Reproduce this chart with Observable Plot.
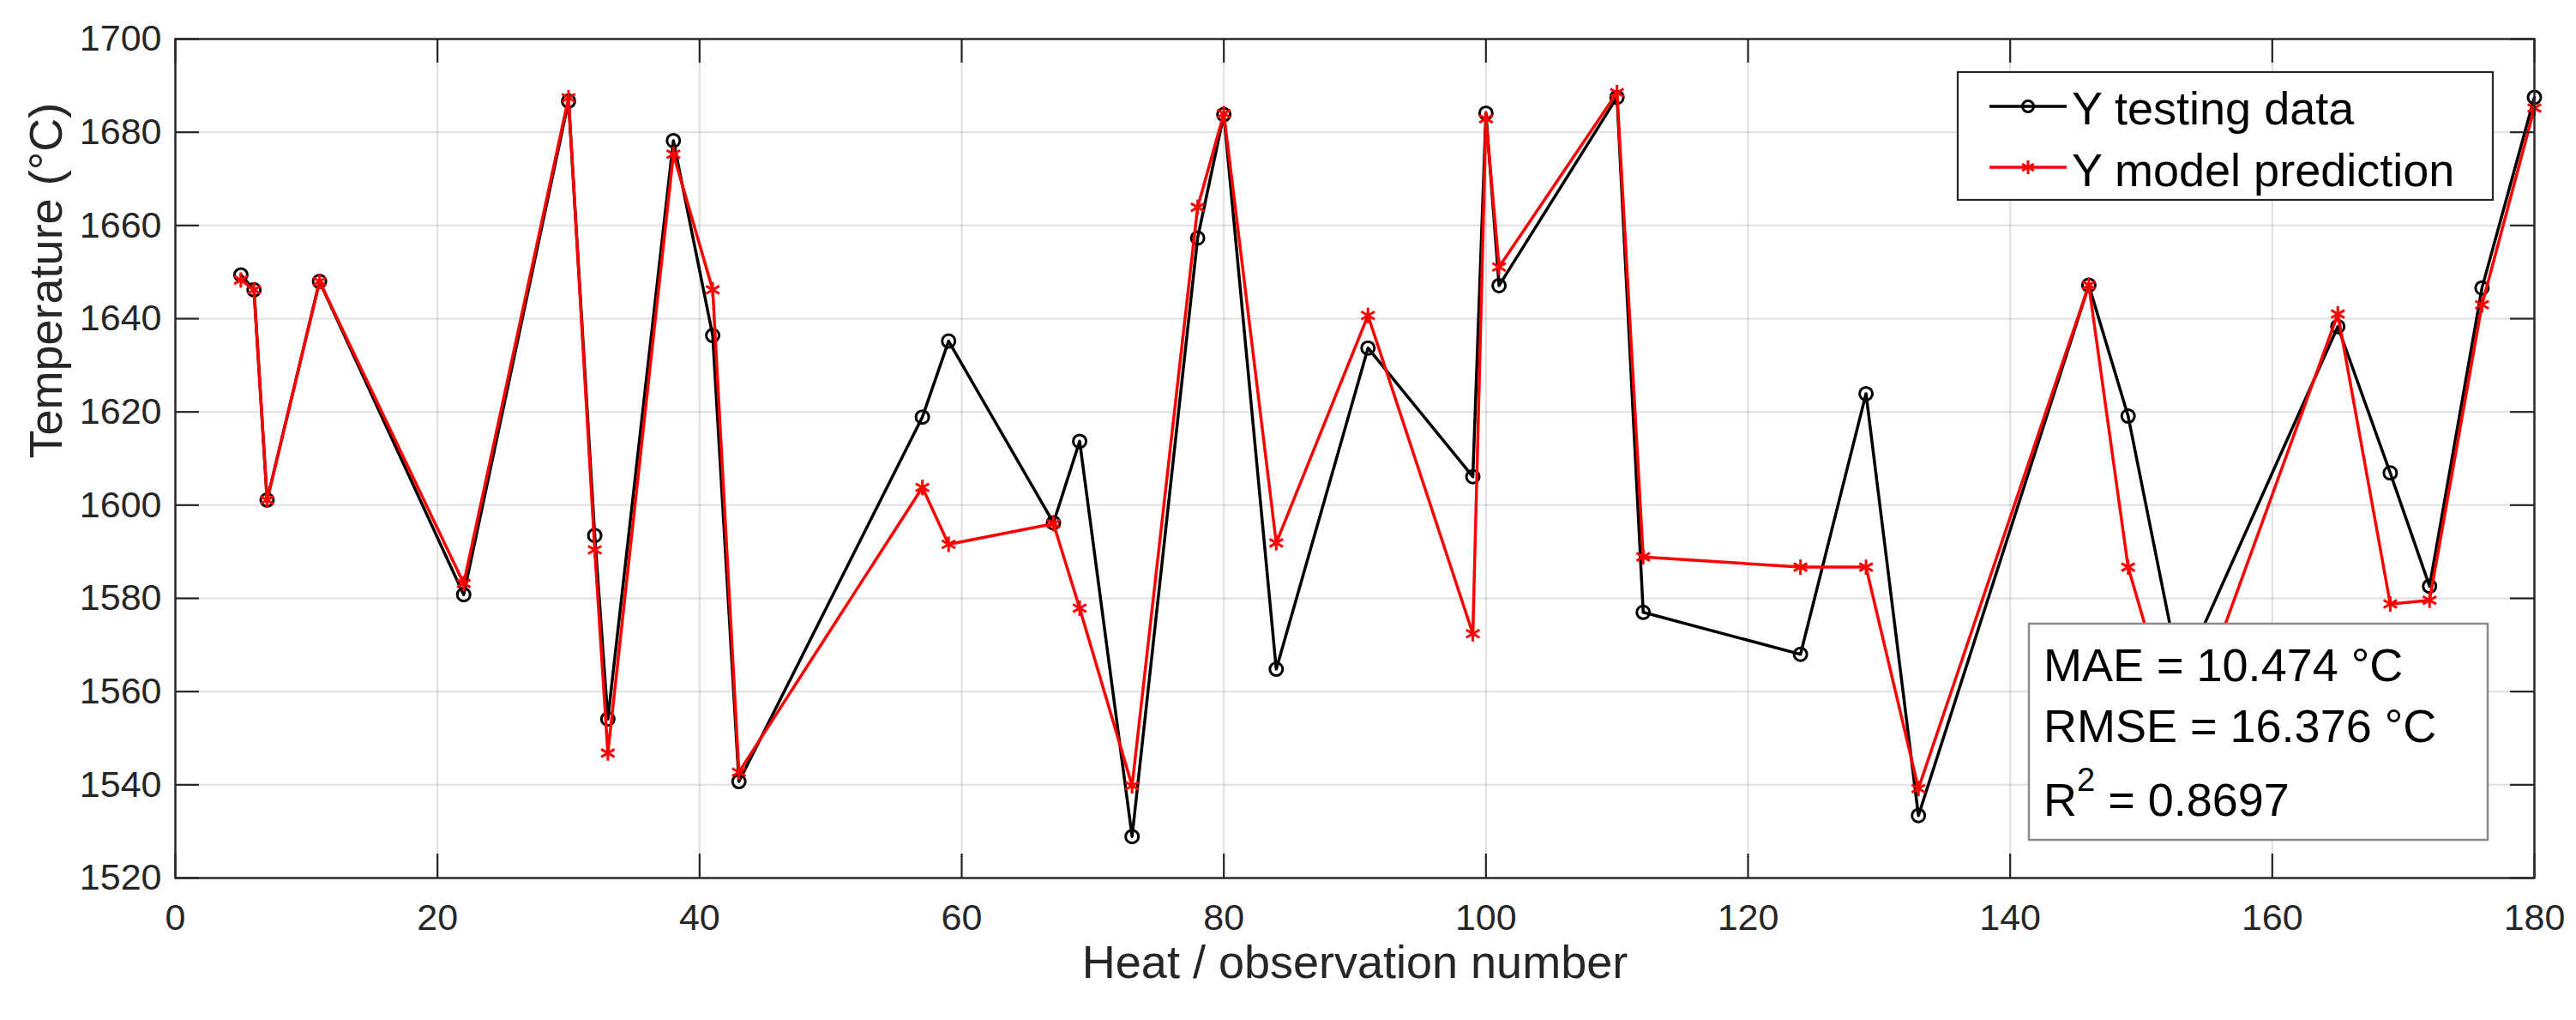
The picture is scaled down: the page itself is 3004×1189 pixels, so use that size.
<!DOCTYPE html>
<html>
<head>
<meta charset="utf-8">
<script src="https://cdn.jsdelivr.net/npm/d3@7"></script>
<script src="https://cdn.jsdelivr.net/npm/@observablehq/plot@0.6"></script>
<style>
html, body { margin: 0; padding: 0; background: #fff; }
#wrap { position: relative; width: 3004px; height: 1189px; overflow: hidden; }
#chart svg { display: block; }
#overlay { position: absolute; left: 0; top: 0; pointer-events: none; }
</style>
</head>
<body>
<div id="wrap"><div id="chart"></div></div>
<script>
// ---- data ----
const heat = [5, 6, 7, 11, 22, 30, 32, 33, 38, 41, 43, 57, 59, 67, 69, 73, 78, 80, 84, 91, 99, 100, 101, 110, 112, 124, 129, 133, 146, 149, 153, 165, 169, 172, 176, 180];
const yTesting = [1649.4, 1646.2, 1601.1, 1648.0, 1580.8, 1686.7, 1593.5, 1554.1, 1678.2, 1636.4, 1540.7, 1618.9, 1635.2, 1596.2, 1613.7, 1528.9, 1657.3, 1683.8, 1564.8, 1633.7, 1606.1, 1684.1, 1647.1, 1687.5, 1577.0, 1568.0, 1623.9, 1533.4, 1647.2, 1619.1, 1563.0, 1638.3, 1606.9, 1582.6, 1646.6, 1687.5];
const yPrediction = [1648.3, 1646.2, 1601.1, 1648.0, 1583.2, 1687.4, 1590.4, 1546.8, 1675.3, 1646.2, 1542.7, 1603.8, 1591.6, 1596.0, 1577.9, 1539.8, 1663.9, 1684.0, 1591.9, 1640.7, 1572.4, 1682.9, 1651.1, 1688.5, 1588.9, 1586.7, 1586.7, 1539.2, 1647.2, 1586.7, 1548.0, 1641.0, 1578.8, 1579.6, 1643.0, 1685.2];
const xTicks = [0, 20, 40, 60, 80, 100, 120, 140, 160, 180];
const yTicks = [1520, 1540, 1560, 1580, 1600, 1620, 1640, 1660, 1680, 1700];
const xDomain = [0, 180];
const yDomain = [1520, 1700];
const xLabel = "Heat / observation number";
const yLabel = "Temperature (°C)";
const seriesNames = ["Y testing data", "Y model prediction"];
const statsLines = ["MAE = 10.474 °C", "RMSE = 16.376 °C"];
const r2Value = "0.8697";

// ---- layout ----
const FONT = '"Liberation Sans", Arial, Helvetica, sans-serif';
const W = 3004, H = 1189;
const mL = 204, mR = 49, mT = 45, mB = 166;
const innerW = W - mL - mR, innerH = H - mT - mB;
const tickLen = 28;
const axisColor = "#262626";

const rows = heat.map((h, i) => ({heat: h, test: yTesting[i], pred: yPrediction[i]}));

const chart = Plot.plot({
  width: W, height: H,
  marginLeft: mL, marginRight: mR, marginTop: mT, marginBottom: mB,
  style: {fontFamily: FONT, background: "#fff", overflow: "visible"},
  x: {domain: xDomain, ticks: xTicks},
  y: {domain: yDomain, ticks: yTicks},
  marks: [
    Plot.gridX(xTicks, {stroke: axisColor, strokeOpacity: 0.15, strokeWidth: 2}),
    Plot.gridY(yTicks, {stroke: axisColor, strokeOpacity: 0.15, strokeWidth: 2}),
    Plot.line(rows, {x: "heat", y: "test", stroke: "#000", strokeWidth: 3.5}),
    Plot.dot(rows, {x: "heat", y: "test", r: 7.5, stroke: "#000", fill: "none", strokeWidth: 3}),
    Plot.line(rows, {x: "heat", y: "pred", stroke: "#ff0000", strokeWidth: 3.5}),
    Plot.dot(rows, {x: "heat", y: "pred", r: 8.5, symbol: "asterisk", stroke: "#ff0000", strokeWidth: 3}),
    // inward ticks on all four sides
    Plot.ruleX(xTicks, {x: d => d, insetTop: innerH - tickLen, stroke: axisColor, strokeWidth: 2.2}),
    Plot.ruleX(xTicks, {x: d => d, insetBottom: innerH - tickLen, stroke: axisColor, strokeWidth: 2.2}),
    Plot.ruleY(yTicks, {y: d => d, insetRight: innerW - tickLen, stroke: axisColor, strokeWidth: 2.2}),
    Plot.ruleY(yTicks, {y: d => d, insetLeft: innerW - tickLen, stroke: axisColor, strokeWidth: 2.2}),
    Plot.frame({stroke: axisColor, strokeWidth: 2.4}),
    Plot.axisX(xTicks, {tickSize: 0, tickPadding: 30, fontSize: 43, fill: axisColor, tickFormat: "d", label: null}),
    Plot.axisY(yTicks, {tickSize: 0, tickPadding: 16, fontSize: 43, fill: axisColor, tickFormat: "d", label: null}),
    Plot.text([xLabel], {text: d => d, frameAnchor: "bottom", dy: 116, fontSize: 54, fill: axisColor}),
    Plot.text([yLabel], {text: d => d, frameAnchor: "left", rotate: -90, dx: -150, fontSize: 54, fill: axisColor})
  ]
});
document.getElementById("chart").appendChild(chart);

// ---- legend and statistics box ----
const ov = d3.select("#wrap").append("svg")
  .attr("id", "overlay").attr("width", W).attr("height", H)
  .style("font-family", FONT);

// legend
const lg = ov.append("g");
lg.append("rect").attr("x", 2283).attr("y", 84).attr("width", 624).attr("height", 149)
  .attr("fill", "#fff").attr("stroke", axisColor).attr("stroke-width", 2.2);
const legendRows = [
  {name: seriesNames[0], color: "#000", sym: "circle", ly: 124, ty: 145},
  {name: seriesNames[1], color: "#ff0000", sym: "asterisk", ly: 195, ty: 217}
];
legendRows.forEach(r => {
  lg.append("line").attr("x1", 2320).attr("x2", 2410).attr("y1", r.ly).attr("y2", r.ly)
    .attr("stroke", r.color).attr("stroke-width", 3.5);
  if (r.sym === "circle") {
    lg.append("circle").attr("cx", 2365).attr("cy", r.ly).attr("r", 6.5)
      .attr("fill", "none").attr("stroke", r.color).attr("stroke-width", 3);
  } else {
    lg.append("path").attr("transform", `translate(2365,${r.ly})`)
      .attr("d", d3.symbol(d3.symbolAsterisk, 7.5 * 7.5 * Math.PI)())
      .attr("fill", "none").attr("stroke", r.color).attr("stroke-width", 3);
  }
  lg.append("text").attr("x", 2416).attr("y", r.ty).attr("font-size", 54).attr("fill", "#000").text(r.name);
});

// statistics box
const sb = ov.append("g");
sb.append("rect").attr("x", 2366).attr("y", 727).attr("width", 535).attr("height", 252)
  .attr("fill", "#fff").attr("stroke", "#8a8a8a").attr("stroke-width", 2.5);
sb.append("text").attr("x", 2383).attr("y", 794).attr("font-size", 54).attr("fill", "#000").text(statsLines[0]);
sb.append("text").attr("x", 2383).attr("y", 865).attr("font-size", 54).attr("fill", "#000").text(statsLines[1]);
const r2 = sb.append("text").attr("x", 2383).attr("y", 951).attr("font-size", 54).attr("fill", "#000");
r2.append("tspan").text("R");
r2.append("tspan").attr("font-size", 38).attr("dy", -29).text("2");
r2.append("tspan").attr("dy", 29).text(" = " + r2Value);
</script>
</body>
</html>
